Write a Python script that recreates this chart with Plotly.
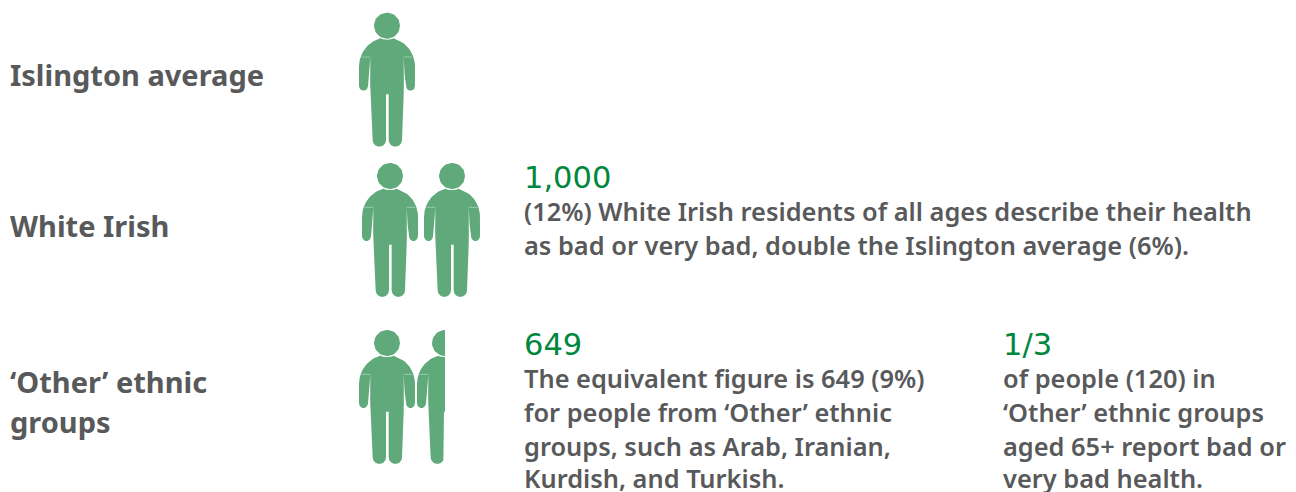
import numpy as np
import plotly.graph_objects as go

# Data
rows = ["Islington average", "White Irish", "'Other' ethnic groups"]
row_percent = [6, 12, 9]
average_percent = 6
row_tops = [12.7, 163, 330]
row_lefts = [359, 362, 359]
row_pitch = [62, 62, 58]

FILL = "#5fa97a"
GREEN = "#00873e"
GREY = "#58595b"
W = 1296
H = 492
PERSON_W = 56

labels = [
    ("Islington average", 8, 74),
    ("White Irish", 8, 225),
    ("\u2018Other\u2019 ethnic", 8, 381),
    ("groups", 8, 421),
]
headlines = [("1,000", 522, 177), ("649", 522, 344), ("1/3", 1001, 344)]
body = [
    ("(12%) White Irish residents of all ages describe their health", 522, 211),
    ("as bad or very bad, double the Islington average (6%).", 522, 245),
    ("The equivalent figure is 649 (9%)", 522, 378),
    ("for people from \u2018Other\u2019 ethnic", 522, 412),
    ("groups, such as Arab, Iranian,", 522, 446),
    ("Kurdish, and Turkish.", 522, 478),
    ("of people (120) in", 1001, 378),
    ("\u2018Other\u2019 ethnic groups", 1001, 412),
    ("aged 65+ report bad or", 1001, 446),
    ("very bad health.", 1001, 478),
]


def arc(cx, cy, rx, ry, a0, a1, n=10):
    t = np.radians(np.linspace(a0, a1, n))
    return np.column_stack([cx + rx * np.cos(t), cy + ry * np.sin(t)])


# Glyph template in glyph-local pixels (3x zoom units, origin at glyph top-left)
def to_local(points):
    p = np.asarray(points, float)
    return (p - np.array([56, 38])) / 3.0


HEAD = to_local(arc(140, 77, 39, 39, 0, 360, 48))
BODY = to_local(np.vstack([
    [[140, 119], [152, 118], [160, 115]],
    arc(140, 200, 84, 87, -74, 0, 20),
    [[224, 258]],
    arc(210.5, 259, 13, 13, 0, 180, 8),
    [[193, 225], [190, 172], [190.5, 250], [190, 285], [185, 420]],
    arc(165, 420, 20, 20, 0, 180, 8),
    [[145, 283], [137, 283]],
    arc(117, 420, 20, 20, 0, 180, 8),
    [[91, 285], [89.5, 250], [90, 172], [87, 225], [83, 259]],
    arc(69.5, 259, 13, 13, 0, 180, 8),
    [[56, 258]],
    arc(140, 200, 84, 87, 180, 254, 20),
    [[120, 115], [128, 118], [140, 119]],
]))
SEAMS = [to_local([[64, 171], [90, 171]]), to_local([[190, 171], [216, 171]])]


def clip_right(poly, xmax):
    out = []
    n = len(poly)
    for i in range(n):
        a, b = poly[i], poly[(i + 1) % n]
        ain, bin_ = a[0] <= xmax, b[0] <= xmax
        if ain:
            out.append(a)
        if ain != bin_:
            t = (xmax - a[0]) / (b[0] - a[0])
            out.append(a + t * (b - a))
    return np.array(out) if out else np.empty((0, 2))


fig = go.Figure()
for name, pct, top, left, pitch in zip(rows, row_percent, row_tops, row_lefts, row_pitch):
    count = pct / average_percent
    for i in range(int(np.ceil(count))):
        frac = min(1.0, count - i)
        limit = PERSON_W * frac
        x0 = left + i * pitch
        for part in (HEAD, BODY):
            poly = clip_right(part, limit)
            if len(poly) == 0:
                continue
            fig.add_trace(go.Scatter(
                x=poly[:, 0] + x0,
                y=poly[:, 1] + top,
                mode="lines",
                fill="toself",
                fillcolor=FILL,
                line=dict(width=0, color=FILL),
                hoverinfo="skip",
                name=name,
                showlegend=False,
            ))
        for seam in SEAMS:
            if seam[:, 0].max() <= limit:
                fig.add_trace(go.Scatter(
                    x=seam[:, 0] + x0,
                    y=seam[:, 1] + top,
                    mode="lines",
                    line=dict(width=0.7, color="rgba(255,255,255,0.55)"),
                    hoverinfo="skip",
                    showlegend=False,
                ))

annotations = []
for text, x, y in labels:
    annotations.append(dict(text=text, x=x, y=y, font=dict(family="Noto Sans", size=29, color=GREY, weight=700)))
for text, x, y in headlines:
    annotations.append(dict(text=text, x=x, y=y, font=dict(family="DejaVu Sans", size=30.5, color=GREEN, weight=400)))
for text, x, y in body:
    annotations.append(dict(text=text, x=x, y=y, font=dict(family="Noto Sans", size=25.4, color=GREY, weight=600)))
for a in annotations:
    a.update(xref="x", yref="y", xanchor="left", yanchor="middle", showarrow=False)

fig.update_layout(
    width=W,
    height=H,
    margin=dict(l=0, r=0, t=0, b=0),
    paper_bgcolor="white",
    plot_bgcolor="white",
    showlegend=False,
    xaxis=dict(range=[0, W], visible=False, fixedrange=True),
    yaxis=dict(range=[H, 0], visible=False, fixedrange=True),
    annotations=annotations,
)
fig.write_html(
    "out.html",
    config={"displayModeBar": False},
    post_script="document.body.style.margin='0';document.documentElement.style.overflow='hidden';",
)
